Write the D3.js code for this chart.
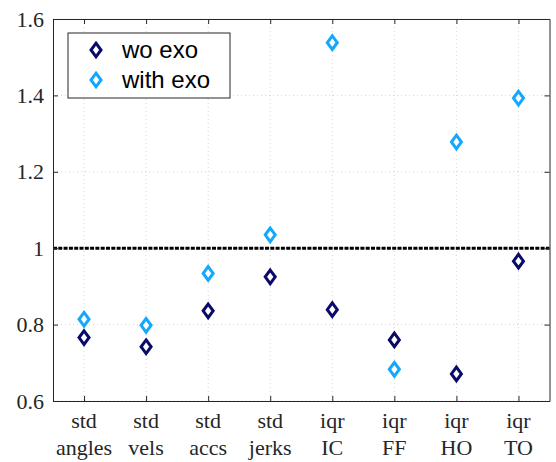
<!DOCTYPE html>
<html>
<head>
<meta charset="utf-8">
<script src="https://cdn.jsdelivr.net/npm/d3@7"></script>
<style>
  html, body { margin: 0; padding: 0; background: #fff; }
  svg { display: block; }
</style>
</head>
<body>
<svg id="chart" width="556" height="462"></svg>
<script>
// Normalised gait metrics, one pair of markers per category
const topLabels = ["std", "std", "std", "std", "iqr", "iqr", "iqr", "iqr"];
const bottomLabels = ["angles", "vels", "accs", "jerks", "IC", "FF", "HO", "TO"];
const woExo   = [0.766, 0.742, 0.836, 0.925, 0.839, 0.760, 0.671, 0.966];
const withExo = [0.814, 0.798, 0.934, 1.035, 1.538, 0.683, 1.278, 1.393];
const yTicks = [0.6, 0.8, 1.0, 1.2, 1.4, 1.6];
const seriesNames = ["wo exo", "with exo"];
const seriesColors = ["#0a0a6b", "#12a8ff"];
const referenceLevel = 1;

const serif = "'Liberation Serif', 'Times New Roman', serif";
const sans = "'Liberation Sans', Arial, sans-serif";

const svg = d3.select("#chart");
const m = { left: 53, right: 556 - 549.5, top: 19, bottom: 462 - 401 };
const W = 556 - m.left - m.right;
const H = 462 - m.top - m.bottom;

const g = svg.append("g").attr("transform", `translate(${m.left},${m.top})`);

const x = d3.scaleLinear().domain([0.5, bottomLabels.length + 0.5]).range([0, W]);
const y = d3.scaleLinear().domain([0.6, 1.6]).range([H, 0]);
const idx = d3.range(1, bottomLabels.length + 1);

// dotted grid
g.append("g").selectAll("line").data(idx).join("line")
  .attr("x1", d => x(d)).attr("x2", d => x(d))
  .attr("y1", 0).attr("y2", H)
  .attr("stroke", "#d6d6d6").attr("stroke-width", 1)
  .attr("stroke-dasharray", "1,3");
g.append("g").selectAll("line").data(yTicks).join("line")
  .attr("x1", 0).attr("x2", W)
  .attr("y1", d => y(d)).attr("y2", d => y(d))
  .attr("stroke", "#d6d6d6").attr("stroke-width", 1)
  .attr("stroke-dasharray", "1,3");

// reference line at 1
g.append("line")
  .attr("x1", 0).attr("x2", W)
  .attr("y1", y(referenceLevel)).attr("y2", y(referenceLevel))
  .attr("stroke", "#000").attr("stroke-width", 3)
  .attr("stroke-dasharray", "4,1.3");

// axes (ticks pointing inward, box on all sides)
const tickFmt = d => (d === 1 ? "1" : d3.format(".1f")(d));
const axL = g.append("g").call(d3.axisLeft(y).tickValues(yTicks).tickSizeInner(-5).tickSizeOuter(0).tickPadding(9).tickFormat(tickFmt));
const axR = g.append("g").attr("transform", `translate(${W},0)`)
  .call(d3.axisRight(y).tickValues(yTicks).tickSizeInner(-5).tickSizeOuter(0).tickFormat(""));
const axB = g.append("g").attr("transform", `translate(0,${H})`)
  .call(d3.axisBottom(x).tickValues(idx).tickSizeInner(-5).tickSizeOuter(0).tickFormat(""));
const axT = g.append("g")
  .call(d3.axisTop(x).tickValues(idx).tickSizeInner(-5).tickSizeOuter(0).tickFormat(""));
[axL, axR, axB, axT].forEach(a => {
  a.select(".domain").attr("stroke", "#262626").attr("stroke-width", 1);
  a.selectAll(".tick line").attr("stroke", "#262626");
});
axL.selectAll(".tick text")
  .attr("font-family", serif)
  .attr("font-size", 22).attr("fill", "#262626");

// two-line category labels
const catG = g.append("g").attr("transform", `translate(0,${H})`);
idx.forEach((d, i) => {
  const t = catG.append("text")
    .attr("x", x(d)).attr("text-anchor", "middle")
    .attr("font-family", serif)
    .attr("font-size", 22).attr("fill", "#262626");
  t.append("tspan").attr("x", x(d)).attr("y", 27).text(topLabels[i]);
  t.append("tspan").attr("x", x(d)).attr("y", 54).text(bottomLabels[i]);
});

// diamond markers
const diamond = (cx, cy) => {
  const hw = 5, hh = 6.8;
  return `M${cx},${cy - hh}L${cx + hw},${cy}L${cx},${cy + hh}L${cx - hw},${cy}Z`;
};
[woExo, withExo].forEach((vals, s) => {
  g.append("g").selectAll("path").data(vals).join("path")
    .attr("d", (v, i) => diamond(x(i + 1), y(v)))
    .attr("fill", "#fff")
    .attr("stroke", seriesColors[s]).attr("stroke-width", 3)
    .attr("stroke-linejoin", "miter");
});

// legend
const lg = svg.append("g").attr("transform", "translate(68,33)");
lg.append("rect").attr("width", 162).attr("height", 65)
  .attr("fill", "#fff").attr("stroke", "#262626").attr("stroke-width", 1);
seriesNames.forEach((name, s) => {
  const cy = 17 + s * 30;
  lg.append("path").attr("d", diamond(28, cy))
    .attr("fill", "#fff").attr("stroke", seriesColors[s]).attr("stroke-width", 3);
  lg.append("text").attr("x", 54).attr("y", cy + 8)
    .attr("font-family", sans)
    .attr("font-size", 24).attr("fill", "#000").text(name);
});
</script>
</body>
</html>
